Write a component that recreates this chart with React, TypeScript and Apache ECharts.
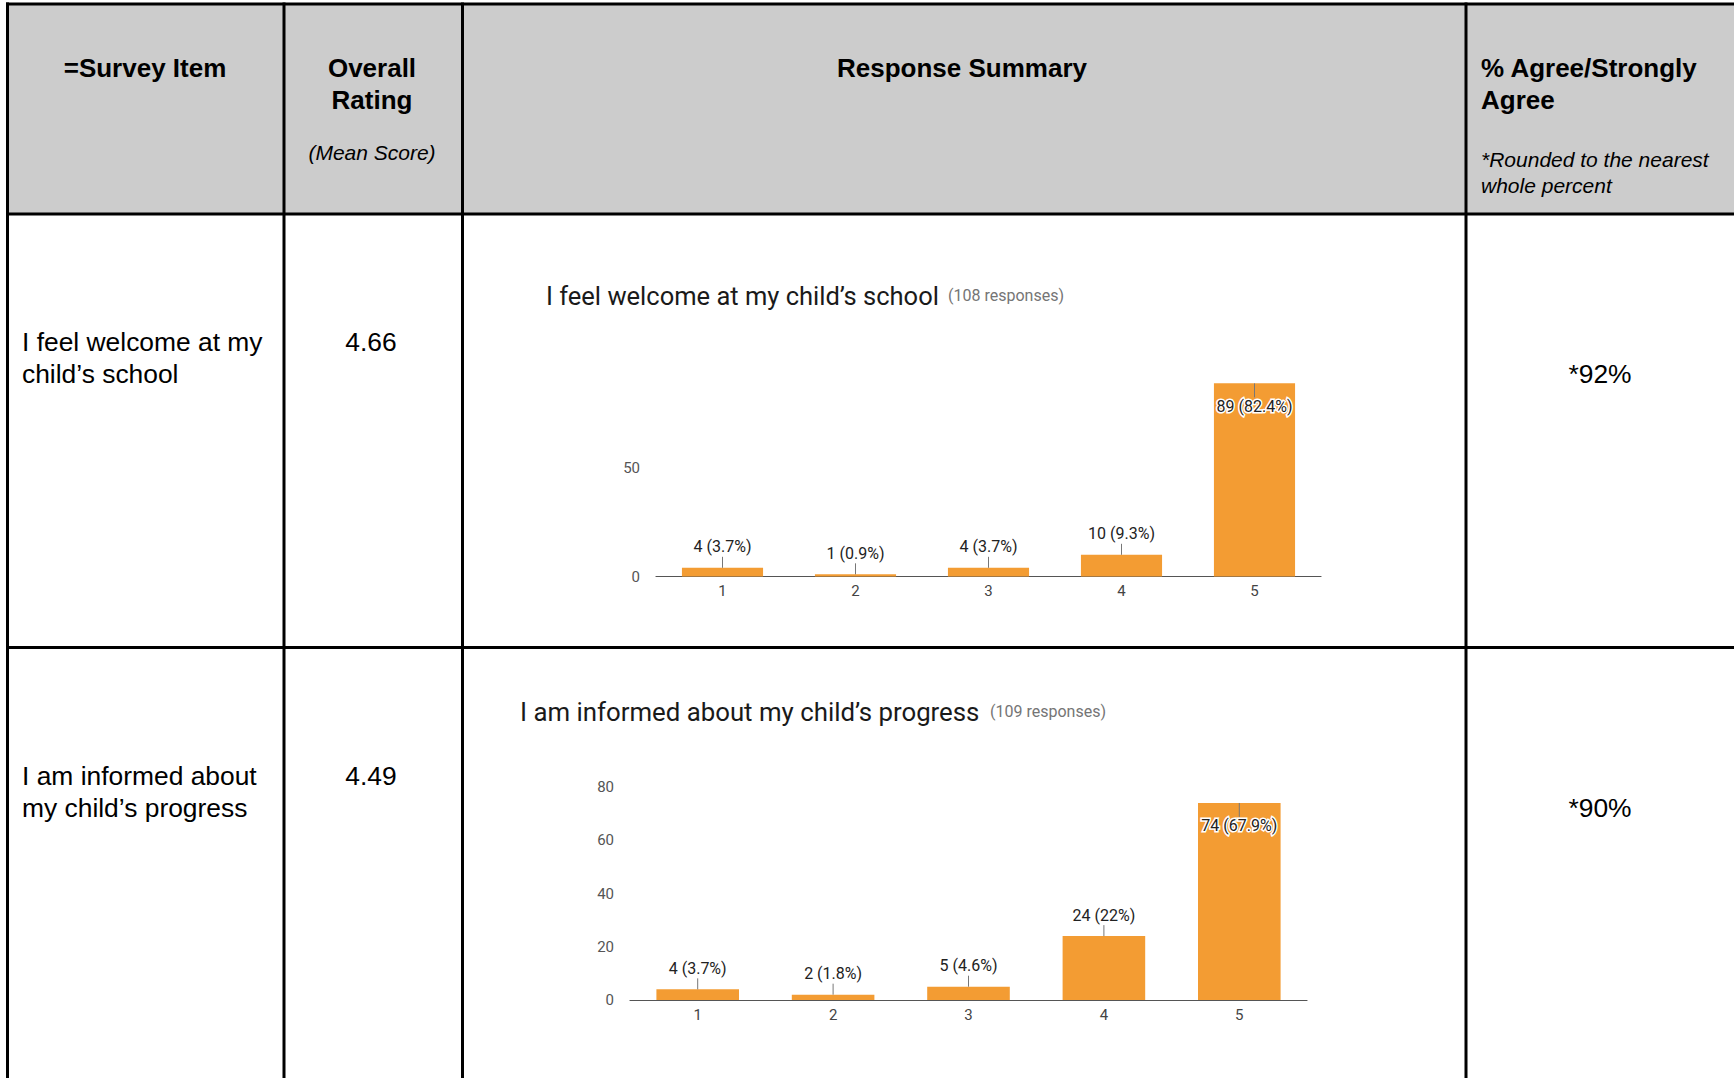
import React, { useEffect, useRef } from "react";
import * as echarts from "echarts";

// ---- data ----
const ratingCategories = ["1", "2", "3", "4", "5"];
const welcomeCounts = [4, 1, 4, 10, 89];
const informedCounts = [4, 2, 5, 24, 74];
const welcomeTotal = 108;
const informedTotal = 109;
const welcomeAxis = { max: 100, interval: 50 };
const informedAxis = { max: 80, interval: 20 };

const headerTitles = ["=Survey Item", "Overall", "Rating", "(Mean Score)", "Response Summary", "% Agree/Strongly", "Agree", "*Rounded to the nearest", "whole percent"];
const itemTexts = [
  ["I feel welcome at my", "child\u2019s school"],
  ["I am informed about", "my child\u2019s progress"],
];
const meanScores = ["4.66", "4.49"];
const agreePercents = ["*92%", "*90%"];
const chartTitles = ["I feel welcome at my child\u2019s school", "I am informed about my child\u2019s progress"];
const responseNotes = ["(108 responses)", "(109 responses)"];

const BAR = "#f39c33";
const ARIAL = "'Liberation Sans', Arial, sans-serif";
const ROBOTO = "Roboto, 'Noto Sans', sans-serif";

function pctLabel(v: number, total: number) {
  const p = parseFloat(((v / total) * 100).toFixed(1));
  return `${v} (${p}%)`;
}

function buildBarData(counts: number[], total: number, max: number) {
  return counts.map((v) => {
    const inside = v / max > 0.8;
    return {
      value: v,
      label: inside
        ? {
            show: true,
            position: "insideTop",
            distance: 15,
            formatter: pctLabel(v, total),
            color: "#222",
            textBorderColor: "#ffffff",
            textBorderWidth: 3,
            fontFamily: ROBOTO,
            fontSize: 16,
          }
        : {
            show: true,
            position: "top",
            distance: 13,
            formatter: pctLabel(v, total),
            color: "#222",
            fontFamily: ROBOTO,
            fontSize: 16,
          },
    };
  });
}

function leaderData(counts: number[], max: number) {
  return counts.map((v, i) => [i, v, v / max > 0.8 ? 1 : 0]);
}

const leaderRender = (params: any, api: any) => {
  const idx = api.value(0);
  const v = api.value(1);
  const inside = api.value(2) === 1;
  const p = api.coord([idx, v]);
  const y2 = inside ? p[1] + 14 : p[1] - 11;
  return {
    type: "line",
    shape: { x1: p[0], y1: p[1], x2: p[0], y2 },
    style: { stroke: "#777", lineWidth: 1 },
    z2: 10,
  };
};

function text(x: number, y: number, t: string, font: string, align = "left", fill = "#000") {
  return {
    type: "text",
    x,
    y: y - 1,
    z: 20,
    silent: true,
    style: {
      text: t,
      font,
      fill,
      align,
      verticalAlign: "middle",
      textAlign: align,
      textVerticalAlign: "middle",
    },
  };
}

export default function App() {
  const ref = useRef<HTMLDivElement>(null);
  useEffect(() => {
    document.body.style.margin = "0";
    const chart = echarts.init(ref.current!, null, { renderer: "svg" });
    const W = 1734;
    const H = 1078;
    const lineStyle = { stroke: "#000", lineWidth: 3 };
    const hline = (y: number) => ({ type: "line", shape: { x1: 6, y1: y, x2: W, y2: y }, style: lineStyle, z: 5 });
    const vline = (x: number) => ({ type: "line", shape: { x1: x, y1: 2.5, x2: x, y2: H }, style: lineStyle, z: 5 });

    const boldF = `bold 26px ${ARIAL}`;
    const regF = `26.4px ${ARIAL}`;
    const itF = `italic 21px ${ARIAL}`;

    const graphics: any[] = [
      { type: "rect", shape: { x: 7, y: 4, width: W - 7, height: 210 }, style: { fill: "#cccccc" }, z: 1 },
      hline(4),
      hline(214),
      hline(647.5),
      vline(7.5),
      vline(284),
      vline(462.5),
      vline(1466),
      text(145, 68.5, headerTitles[0], boldF, "center"),
      text(372, 68.5, headerTitles[1], boldF, "center"),
      text(372, 100.5, headerTitles[2], boldF, "center"),
      text(372, 153.5, headerTitles[3], itF, "center"),
      text(962, 68.5, headerTitles[4], boldF, "center"),
      text(1481, 68.5, headerTitles[5], boldF, "left"),
      text(1481, 100.5, headerTitles[6], boldF, "left"),
      text(1481, 160, headerTitles[7], itF, "left"),
      text(1481, 186, headerTitles[8], itF, "left"),
      text(22, 343, itemTexts[0][0], regF),
      text(22, 375, itemTexts[0][1], regF),
      text(22, 776.5, itemTexts[1][0], regF),
      text(22, 808.5, itemTexts[1][1], regF),
      text(371, 343, meanScores[0], regF, "center"),
      text(371, 776.5, meanScores[1], regF, "center"),
      text(1600, 375, agreePercents[0], regF, "center"),
      text(1600, 808.5, agreePercents[1], regF, "center"),
      text(546, 296.5, chartTitles[0], `25.5px ${ROBOTO}`, "left", "#1a1a1a"),
      text(948, 296.5, responseNotes[0], `16px ${ROBOTO}`, "left", "#757575"),
      text(520, 712.5, chartTitles[1], `25.8px ${ROBOTO}`, "left", "#1a1a1a"),
      text(990, 712.5, responseNotes[1], `16px ${ROBOTO}`, "left", "#757575"),
    ];

    const xAxisBase = (gridIndex: number) => ({
      type: "category",
      gridIndex,
      data: ratingCategories,
      axisTick: { show: false },
      axisLine: { show: true, lineStyle: { color: "#555", width: 1.2 } },
      axisLabel: { color: "#444", fontFamily: ROBOTO, fontSize: 15, margin: 7 },
    });
    const yAxisBase = (gridIndex: number, cfg: { max: number; interval: number }, hideMax: boolean) => ({
      type: "value",
      gridIndex,
      min: 0,
      max: cfg.max,
      interval: cfg.interval,
      splitLine: { show: false },
      axisLine: { show: false },
      axisTick: { show: false },
      axisLabel: {
        color: "#555",
        fontFamily: ROBOTO,
        fontSize: 15,
        margin: 16,
        formatter: (v: number) => (hideMax && v === cfg.max ? "" : String(v)),
      },
    });

    chart.setOption({
      animation: false,
      backgroundColor: "#ffffff",
      grid: [
        { left: 656, top: 359.5, width: 665, height: 217 },
        { left: 630, top: 787, width: 677, height: 213 },
      ],
      xAxis: [xAxisBase(0), xAxisBase(1)],
      yAxis: [yAxisBase(0, welcomeAxis, true), yAxisBase(1, informedAxis, false)],
      series: [
        {
          type: "bar",
          xAxisIndex: 0,
          yAxisIndex: 0,
          barWidth: "61%",
          itemStyle: { color: BAR },
          data: buildBarData(welcomeCounts, welcomeTotal, welcomeAxis.max),
        },
        {
          type: "custom",
          xAxisIndex: 0,
          yAxisIndex: 0,
          renderItem: leaderRender,
          data: leaderData(welcomeCounts, welcomeAxis.max),
          z: 3,
        },
        {
          type: "bar",
          xAxisIndex: 1,
          yAxisIndex: 1,
          barWidth: "61%",
          itemStyle: { color: BAR },
          data: buildBarData(informedCounts, informedTotal, informedAxis.max),
        },
        {
          type: "custom",
          xAxisIndex: 1,
          yAxisIndex: 1,
          renderItem: leaderRender,
          data: leaderData(informedCounts, informedAxis.max),
          z: 3,
        },
      ],
      graphic: graphics,
    });
    return () => chart.dispose();
  }, []);
  return <div ref={ref} style={{ position: "absolute", left: 0, top: 0, width: 1734, height: 1078 }} />;
}
